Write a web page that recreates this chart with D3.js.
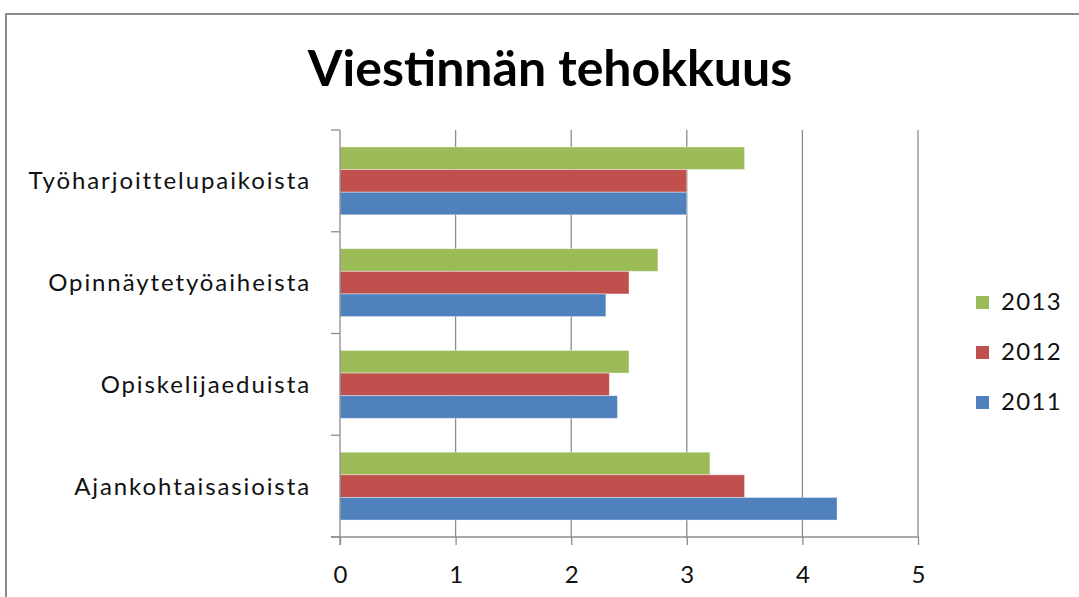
<!DOCTYPE html>
<html>
<head>
<meta charset="utf-8">
<script src="https://cdn.jsdelivr.net/npm/d3@7"></script>
<style>
  body { margin: 0; background: #fff; }
  text { font-family: Lato, "Open Sans", sans-serif; }
</style>
</head>
<body>
<svg id="chart" width="1079" height="597"></svg>
<script>
// data
var categories = ['Työharjoittelupaikoista', 'Opinnäytetyöaiheista', 'Opiskelijaeduista', 'Ajankohtaisasioista']
var seriesNames = ['2013', '2012', '2011']
var values2013 = [3.5, 2.75, 2.5, 3.2]
var values2012 = [3.0, 2.5, 2.33, 3.5]
var values2011 = [3.0, 2.3, 2.4, 4.3]
var seriesValues = [values2013, values2012, values2011]
var colors = ['#9BBB59', '#C0504D', '#4F81BD']
var xTicks = [0, 1, 2, 3, 4, 5]

var svg = d3.select('#chart')

// outer frame
svg.append('rect')
    .attr('x', 6).attr('y', 14)
    .attr('width', 1090).attr('height', 600)
    .attr('fill', 'none')
    .attr('stroke', '#8c8c8c')
    .attr('stroke-width', 2)

svg.append('text')
    .attr('x', 550).attr('y', 86)
    .attr('text-anchor', 'middle')
    .style('font-weight', 'bold')
    .style('font-size', '50px')
    .style('fill', '#000')
    .text('Viestinnän tehokkuus')

var plotLeft = 340, plotRight = 918, plotTop = 130, plotBottom = 537

var xScale = d3.scaleLinear().domain([0, 5]).range([plotLeft, plotRight])
var yScale = d3.scaleBand().domain(categories).range([plotTop, plotBottom]).paddingInner(0.333).paddingOuter(0.1667)
var inner = d3.scaleBand().domain(seriesNames).range([0, yScale.bandwidth()])

// gridlines
svg.append('g').selectAll('line')
    .data(xTicks.slice(1))
    .enter().append('line')
    .attr('x1', d => xScale(d)).attr('x2', d => xScale(d))
    .attr('y1', plotTop).attr('y2', plotBottom)
    .attr('stroke', '#8c8c8c').attr('stroke-width', 1.3)

// bars
seriesNames.forEach(function (s, i) {
    svg.append('g').selectAll('rect')
        .data(seriesValues[i])
        .enter().append('rect')
        .attr('x', xScale(0))
        .attr('y', (d, j) => yScale(categories[j]) + inner(s))
        .attr('width', d => xScale(d) - xScale(0))
        .attr('height', inner.bandwidth())
        .attr('fill', colors[i])
        .attr('stroke', 'rgba(255,255,255,0.5)')
        .attr('stroke-width', 0.8)
})

// x axis
var xAxis = d3.axisBottom(xScale).tickValues(xTicks).tickSize(8).tickPadding(21).tickFormat(d3.format('d'))
var xG = svg.append('g').attr('transform', `translate(0, ${plotBottom})`).call(xAxis)
xG.select('.domain').attr('stroke', '#8c8c8c').attr('stroke-width', 1.3)
    .attr('d', `M${plotLeft - 9},0H${plotRight}`)
xG.selectAll('.tick line').attr('stroke', '#8c8c8c').attr('stroke-width', 1.3)
xG.selectAll('.tick text').style('font-size', '24px').style('fill', '#111')

// y axis with ticks between categories
var yG = svg.append('g')
yG.append('line').attr('x1', plotLeft).attr('x2', plotLeft).attr('y1', plotTop).attr('y2', plotBottom + 8)
    .attr('stroke', '#8c8c8c').attr('stroke-width', 1.3)
var bounds = categories.map(c => yScale(c) - yScale.step() * yScale.paddingInner() / 2)
bounds.push(plotBottom)
yG.selectAll('line.tk')
    .data(bounds)
    .enter().append('line')
    .attr('class', 'tk')
    .attr('x1', plotLeft - 9).attr('x2', plotLeft)
    .attr('y1', d => d).attr('y2', d => d)
    .attr('stroke', '#8c8c8c').attr('stroke-width', 1.3)
yG.selectAll('text')
    .data(categories)
    .enter().append('text')
    .attr('x', 311)
    .attr('y', d => yScale(d) + yScale.bandwidth() / 2)
    .attr('dy', '0.35em')
    .attr('text-anchor', 'end')
    .style('font-size', '24px')
    .style('letter-spacing', '1.9px')
    .style('fill', '#111')
    .text(d => d)

// legend
var legendY = [302, 352, 402]
var legend = svg.append('g')
seriesNames.forEach(function (s, i) {
    legend.append('rect')
        .attr('x', 976).attr('y', legendY[i] - 6)
        .attr('width', 13).attr('height', 13)
        .attr('fill', colors[i])
    legend.append('text')
        .attr('x', 1001).attr('y', legendY[i])
        .attr('dy', '0.35em')
        .style('font-size', '24px')
        .style('letter-spacing', '1.3px')
        .style('fill', '#111')
        .text(s)
})
</script>
</body>
</html>
